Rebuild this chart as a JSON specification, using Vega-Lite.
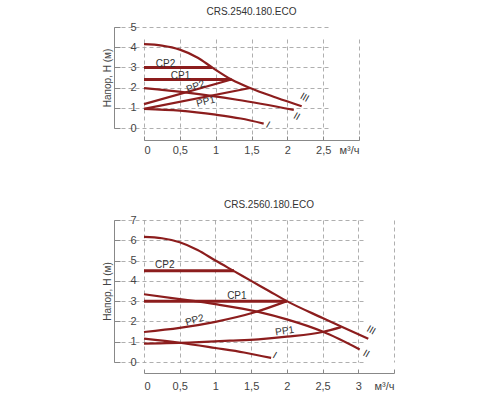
{
  "$schema": "https://vega.github.io/schema/vega-lite/v6.json",
  "padding": {"left": 102, "top": 7, "right": 5, "bottom": 5},
  "spacing": 44,
  "config": {
    "font": "Liberation Sans",
    "view": {"stroke": null},
    "title": {"fontSize": 10, "fontWeight": "normal", "color": "#333", "offset": 4},
    "axis": {
      "domainColor": "#888",
      "tickColor": "#888",
      "gridColor": "#9a9a9a",
      "gridDash": [4, 3],
      "gridWidth": 0.8,
      "labelFontSize": 11,
      "labelColor": "#444",
      "labelOverlap": false,
      "titleFontSize": 10,
      "titleFontWeight": "normal",
      "titleColor": "#444"
    },
    "axisX": {"offset": 12, "tickSize": -4, "labelPadding": 8.5},
    "axisY": {"offset": 30, "tickSize": -6, "labelPadding": -16, "titlePadding": 1},
    "text": {"fontSize": 10, "color": "#333"}
  },
  "vconcat": [
    {
      "title": "CRS.2540.180.ECO",
      "width": 215,
      "height": 101,
      "data": {
        "values": [
          {"curve": "III", "q": 0, "h": 4.15},
          {"curve": "III", "q": 0.25, "h": 4.08},
          {"curve": "III", "q": 0.5, "h": 3.88},
          {"curve": "III", "q": 0.75, "h": 3.48},
          {"curve": "III", "q": 0.95, "h": 3.0},
          {"curve": "III", "q": 1.22, "h": 2.4},
          {"curve": "III", "q": 1.48, "h": 1.98},
          {"curve": "III", "q": 1.85, "h": 1.5},
          {"curve": "III", "q": 2.2, "h": 1.08},
          {"curve": "II", "q": 0, "h": 1.97},
          {"curve": "II", "q": 0.6, "h": 1.75},
          {"curve": "II", "q": 1.3, "h": 1.4},
          {"curve": "II", "q": 2.09, "h": 0.9},
          {"curve": "I", "q": 0, "h": 0.95},
          {"curve": "I", "q": 0.5, "h": 0.86},
          {"curve": "I", "q": 1.0, "h": 0.66},
          {"curve": "I", "q": 1.35, "h": 0.47},
          {"curve": "I", "q": 1.67, "h": 0.22},
          {"curve": "CP2", "q": 0, "h": 3.0},
          {"curve": "CP2", "q": 0.95, "h": 3.0},
          {"curve": "CP1", "q": 0, "h": 2.4},
          {"curve": "CP1", "q": 1.22, "h": 2.4},
          {"curve": "PP2", "q": 0, "h": 1.18},
          {"curve": "PP2", "q": 1.22, "h": 2.4},
          {"curve": "PP1", "q": 0, "h": 0.95},
          {"curve": "PP1", "q": 1.48, "h": 1.98}
        ]
      },
      "encoding": {
        "x": {
          "field": "q", "type": "quantitative",
          "scale": {"domain": [0, 3], "nice": false},
          "axis": {"title": null, "values": [0, 0.5, 1, 1.5, 2, 2.5, 3],
                   "labelExpr": "datum.value == 3 ? 'м³/ч' : replace(toString(datum.value), '.', ',')"}
        },
        "y": {
          "field": "h", "type": "quantitative",
          "scale": {"domain": [0, 5], "nice": false},
          "axis": {"title": "Напор, Н (м)", "values": [0, 1, 2, 3, 4, 5]}
        }
      },
      "layer": [
        {
          "transform": [{"filter": "datum.curve == 'CP1' || datum.curve == 'CP2'"}],
          "mark": {"type": "line", "color": "#8c1d1d", "strokeWidth": 3},
          "encoding": {"detail": {"field": "curve"}}
        },
        {
          "transform": [{"filter": "datum.curve != 'CP1' && datum.curve != 'CP2'"}],
          "mark": {"type": "line", "color": "#8c1d1d", "strokeWidth": 2.2, "interpolate": "monotone"},
          "encoding": {"detail": {"field": "curve"}}
        },
        {
          "data": {"values": [
            {"label": "CP2", "q": 0.3, "h": 3.15},
            {"label": "CP1", "q": 0.51, "h": 2.58},
            {"label": "PP2", "q": 0.72, "h": 2.05},
            {"label": "PP1", "q": 0.86, "h": 1.3},
            {"label": "III", "q": 2.24, "h": 1.51},
            {"label": "II", "q": 2.13, "h": 0.57},
            {"label": "I", "q": 1.73, "h": 0.15}
          ]},
          "layer": [
            {
              "transform": [{"filter": "datum.label == 'CP1' || datum.label == 'CP2'"}],
              "mark": {"type": "text"},
              "encoding": {"text": {"field": "label"}}
            },
            {
              "transform": [{"filter": "datum.label == 'PP2'"}],
              "mark": {"type": "text", "angle": -20},
              "encoding": {"text": {"field": "label"}}
            },
            {
              "transform": [{"filter": "datum.label == 'PP1'"}],
              "mark": {"type": "text", "angle": -14},
              "encoding": {"text": {"field": "label"}}
            },
            {
              "transform": [{"filter": "datum.label == 'I' || datum.label == 'II' || datum.label == 'III'"}],
              "mark": {"type": "text", "angle": 30},
              "encoding": {"text": {"field": "label"}}
            }
          ]
        }
      ]
    },
    {
      "title": "CRS.2560.180.ECO",
      "width": 250,
      "height": 142,
      "data": {
        "values": [
          {"curve": "III", "q": 0, "h": 6.17},
          {"curve": "III", "q": 0.25, "h": 6.1},
          {"curve": "III", "q": 0.5, "h": 5.9},
          {"curve": "III", "q": 0.75, "h": 5.52},
          {"curve": "III", "q": 1.0, "h": 5.0},
          {"curve": "III", "q": 1.26, "h": 4.48},
          {"curve": "III", "q": 1.5, "h": 4.0},
          {"curve": "III", "q": 1.75, "h": 3.5},
          {"curve": "III", "q": 2.0, "h": 3.0},
          {"curve": "III", "q": 2.5, "h": 2.17},
          {"curve": "III", "q": 2.76, "h": 1.75},
          {"curve": "III", "q": 3.14, "h": 1.15},
          {"curve": "II", "q": 0, "h": 3.34},
          {"curve": "II", "q": 0.5, "h": 3.1},
          {"curve": "II", "q": 1.0, "h": 2.85},
          {"curve": "II", "q": 1.6, "h": 2.47},
          {"curve": "II", "q": 2.0, "h": 2.1},
          {"curve": "II", "q": 2.5, "h": 1.5},
          {"curve": "II", "q": 3.02, "h": 0.62},
          {"curve": "I", "q": 0, "h": 1.15},
          {"curve": "I", "q": 0.5, "h": 0.95},
          {"curve": "I", "q": 1.0, "h": 0.69},
          {"curve": "I", "q": 1.4, "h": 0.47},
          {"curve": "I", "q": 1.78, "h": 0.2},
          {"curve": "CP2", "q": 0, "h": 4.5},
          {"curve": "CP2", "q": 1.26, "h": 4.5},
          {"curve": "CP1", "q": 0, "h": 3.0},
          {"curve": "CP1", "q": 2.0, "h": 3.0},
          {"curve": "PP2", "q": 0, "h": 1.48},
          {"curve": "PP2", "q": 0.5, "h": 1.68},
          {"curve": "PP2", "q": 1.0, "h": 1.98},
          {"curve": "PP2", "q": 1.55, "h": 2.45},
          {"curve": "PP2", "q": 2.0, "h": 3.0},
          {"curve": "PP1", "q": 0, "h": 0.91},
          {"curve": "PP1", "q": 0.7, "h": 0.97},
          {"curve": "PP1", "q": 1.2, "h": 1.05},
          {"curve": "PP1", "q": 1.6, "h": 1.12},
          {"curve": "PP1", "q": 2.0, "h": 1.25},
          {"curve": "PP1", "q": 2.5, "h": 1.48},
          {"curve": "PP1", "q": 2.76, "h": 1.72}
        ]
      },
      "encoding": {
        "x": {
          "field": "q", "type": "quantitative",
          "scale": {"domain": [0, 3.5], "nice": false},
          "axis": {"title": null, "offset": 11, "labelPadding": 11, "values": [0, 0.5, 1, 1.5, 2, 2.5, 3, 3.5],
                   "labelExpr": "datum.value == 3.5 ? 'м³/ч' : replace(toString(datum.value), '.', ',')"}
        },
        "y": {
          "field": "h", "type": "quantitative",
          "scale": {"domain": [0, 7], "nice": false},
          "axis": {"title": "Напор, Н (м)", "values": [0, 1, 2, 3, 4, 5, 6, 7]}
        }
      },
      "layer": [
        {
          "transform": [{"filter": "datum.curve == 'CP1' || datum.curve == 'CP2'"}],
          "mark": {"type": "line", "color": "#8c1d1d", "strokeWidth": 3},
          "encoding": {"detail": {"field": "curve"}}
        },
        {
          "transform": [{"filter": "datum.curve != 'CP1' && datum.curve != 'CP2'"}],
          "mark": {"type": "line", "color": "#8c1d1d", "strokeWidth": 2.2, "interpolate": "monotone"},
          "encoding": {"detail": {"field": "curve"}}
        },
        {
          "data": {"values": [
            {"label": "CP2", "q": 0.29, "h": 4.78},
            {"label": "CP1", "q": 1.3, "h": 3.26},
            {"label": "PP2", "q": 0.71, "h": 2.06},
            {"label": "PP1", "q": 1.97, "h": 1.52},
            {"label": "III", "q": 3.18, "h": 1.57},
            {"label": "II", "q": 3.11, "h": 0.41},
            {"label": "I", "q": 1.83, "h": 0.33}
          ]},
          "layer": [
            {
              "transform": [{"filter": "datum.label == 'CP1' || datum.label == 'CP2'"}],
              "mark": {"type": "text"},
              "encoding": {"text": {"field": "label"}}
            },
            {
              "transform": [{"filter": "datum.label == 'PP2'"}],
              "mark": {"type": "text", "angle": -16},
              "encoding": {"text": {"field": "label"}}
            },
            {
              "transform": [{"filter": "datum.label == 'PP1'"}],
              "mark": {"type": "text", "angle": -9},
              "encoding": {"text": {"field": "label"}}
            },
            {
              "transform": [{"filter": "datum.label == 'I' || datum.label == 'II' || datum.label == 'III'"}],
              "mark": {"type": "text", "angle": 30},
              "encoding": {"text": {"field": "label"}}
            }
          ]
        }
      ]
    }
  ]
}
